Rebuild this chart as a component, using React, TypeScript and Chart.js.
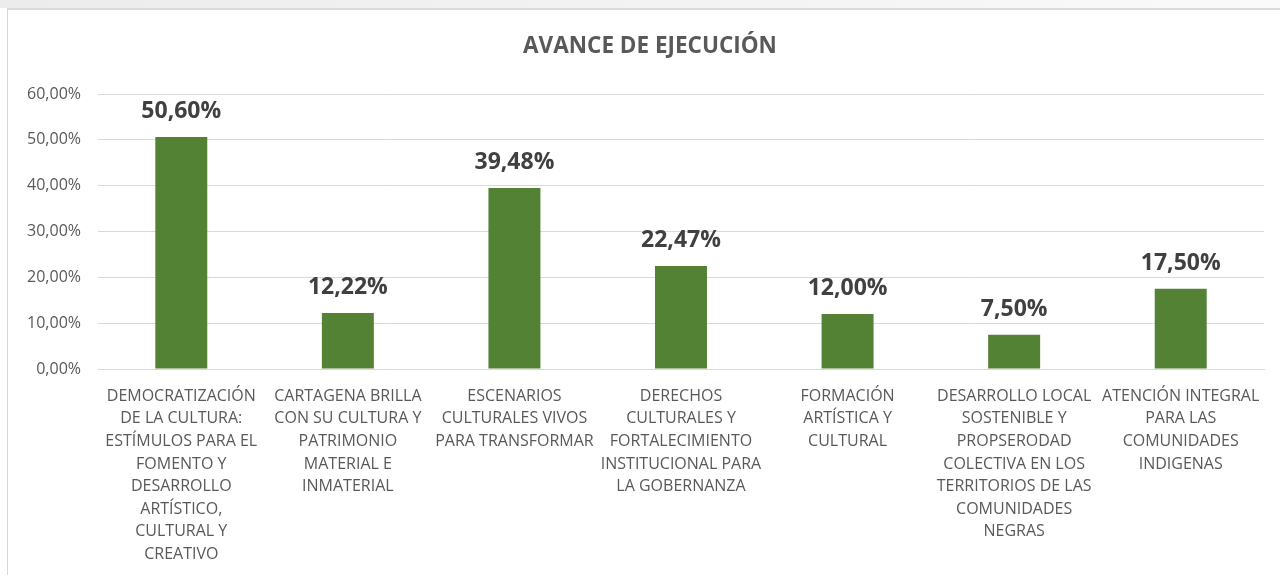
import React, { useEffect, useRef } from "react";
import { Chart, registerables } from "chart.js";

Chart.register(...registerables);

const categories: string[][] = [
  ["DEMOCRATIZACIÓN", "DE LA CULTURA:", "ESTÍMULOS PARA EL", "FOMENTO Y", "DESARROLLO", "ARTÍSTICO,", "CULTURAL Y", "CREATIVO"],
  ["CARTAGENA BRILLA", "CON SU CULTURA Y", "PATRIMONIO", "MATERIAL E", "INMATERIAL"],
  ["ESCENARIOS", "CULTURALES VIVOS", "PARA TRANSFORMAR"],
  ["DERECHOS", "CULTURALES Y", "FORTALECIMIENTO", "INSTITUCIONAL PARA", "LA GOBERNANZA"],
  ["FORMACIÓN", "ARTÍSTICA Y", "CULTURAL"],
  ["DESARROLLO LOCAL", "SOSTENIBLE Y", "PROPSERODAD", "COLECTIVA EN LOS", "TERRITORIOS DE LAS", "COMUNIDADES", "NEGRAS"],
  ["ATENCIÓN INTEGRAL", "PARA LAS", "COMUNIDADES", "INDIGENAS"],
];

const avance: number[] = [50.6, 12.22, 39.48, 22.47, 12.0, 7.5, 17.5];

const yTicks: number[] = [0, 10, 20, 30, 40, 50, 60];

const title = "AVANCE DE EJECUCIÓN";

const FONT = "'Open Sans', 'Noto Sans', sans-serif";

const fmt = (v: number) => v.toFixed(2).replace(".", ",") + "%";

const valueLabels = {
  id: "valueLabels",
  afterDatasetsDraw(chart: any) {
    const ctx = chart.ctx;
    const meta = chart.getDatasetMeta(0);
    ctx.save();
    ctx.font = `bold 23px ${FONT}`;
    ctx.fillStyle = "#404040";
    ctx.textAlign = "center";
    ctx.textBaseline = "alphabetic";
    meta.data.forEach((bar: any, i: number) => {
      const v = chart.data.datasets[0].data[i];
      ctx.fillText(fmt(v), bar.x, bar.y - 19);
    });
    ctx.restore();
  },
};

const titleSpan = {
  id: "titleSpan",
  afterLayout(chart: any) {
    const t = chart.titleBlock;
    if (t) {
      t.left = 36;
    }
  },
};

export default function App() {
  const ref = useRef<HTMLCanvasElement | null>(null);

  useEffect(() => {
    if (!ref.current) return;
    const chart = new Chart(ref.current, {
      type: "bar",
      data: {
        labels: categories,
        datasets: [
          {
            data: avance,
            backgroundColor: "#548235",
            borderWidth: 0,
            categoryPercentage: 1,
            barPercentage: 0.312,
          },
        ],
      },
      options: {
        animation: false,
        responsive: false,
        maintainAspectRatio: false,
        layout: { padding: { left: 0, right: 36, top: 0, bottom: 0 } },
        plugins: {
          legend: { display: false },
          tooltip: { enabled: false },
          title: {
            display: true,
            text: title,
            color: "#595959",
            font: { family: FONT, size: 22.5, weight: "bold", lineHeight: 1.2 },
            padding: { top: 33, bottom: 34 },
          },
        },
        scales: {
          x: {
            grid: { display: false, drawTicks: false },
            border: { display: true, color: "#d9d9d9", width: 1 },
            ticks: {
              color: "#595959",
              font: { family: FONT, size: 16, lineHeight: 1.41 },
              maxRotation: 0,
              minRotation: 0,
              autoSkip: false,
              padding: 16,
            },
            afterFit: (s: any) => {
              s.height = 206;
            },
          },
          y: {
            min: 0,
            max: 60,
            afterBuildTicks: (s: any) => {
              s.ticks = yTicks.map((v) => ({ value: v }));
            },
            grid: { color: "#d9d9d9", lineWidth: 1, drawTicks: false },
            border: { display: false },
            ticks: {
              color: "#595959",
              font: { family: FONT, size: 16 },
              padding: 17,
              callback: (v: any) => fmt(Number(v)),
            },
            afterFit: (s: any) => {
              s.width = 98;
            },
          },
        },
      },
      plugins: [valueLabels, titleSpan],
    });
    return () => chart.destroy();
  }, []);

  return (
    <div style={{ position: "fixed", left: 0, top: 0, width: 1280, height: 575, background: "#fff", overflow: "hidden" }}>
      <div
        style={{
          position: "absolute",
          left: 0,
          top: 0,
          width: 1280,
          height: 8,
          background: "linear-gradient(to right, #ececec, #f4f4f4 60%, #fafafa)",
        }}
      />
      <div
        style={{
          position: "absolute",
          left: 7,
          top: 8,
          width: 1300,
          height: 600,
          border: "1px solid #d9d9d9",
          borderTopWidth: 2,
          boxSizing: "border-box",
        }}
      />
      <canvas ref={ref} width={1300} height={575} style={{ position: "absolute", left: 0, top: 0, width: 1300, height: 575 }} />
    </div>
  );
}
